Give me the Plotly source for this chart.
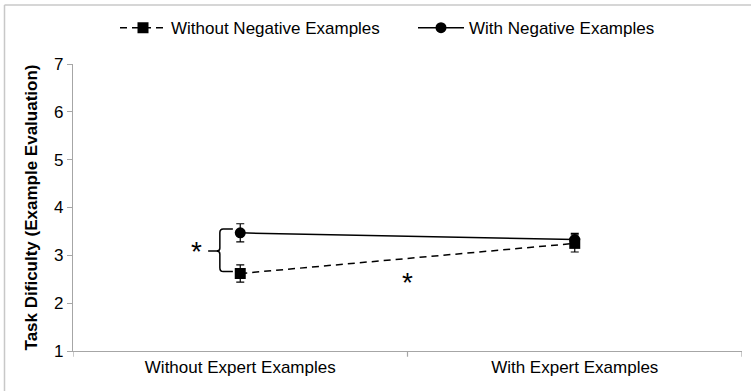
import plotly.graph_objects as go

categories = ["Without Expert Examples", "With Expert Examples"]
x_pos = [0, 1]
without_neg = [2.62, 3.25]
without_neg_err = [0.18, 0.18]
with_neg = [3.47, 3.33]
with_neg_err = [0.19, 0.13]
y_ticks = [1, 2, 3, 4, 5, 6, 7]

font_family = "Liberation Sans, Arial, sans-serif"

fig = go.Figure()
fig.add_trace(go.Scatter(
    x=x_pos, y=without_neg, name="Without Negative Examples",
    mode="lines+markers", legend="legend",
    line=dict(color="black", width=1.5, dash="7px,5px"),
    marker=dict(symbol="square", size=11, color="black"),
    error_y=dict(type="data", array=without_neg_err, color="black", thickness=1.2, width=4),
))
fig.add_trace(go.Scatter(
    x=x_pos, y=with_neg, name="With Negative Examples",
    mode="lines+markers", legend="legend2",
    line=dict(color="black", width=1.5),
    marker=dict(symbol="circle", size=11, color="black"),
    error_y=dict(type="data", array=with_neg_err, color="black", thickness=1.2, width=4),
))

# brace
bx, bl, br = -0.061, -0.096, -0.022
yt, ym, yb = 3.55, 3.09, 2.66
path = (f"M {br},{yt} L {bx+0.01},{yt} Q {bx},{yt} {bx},{yt-0.08} "
        f"L {bx},{ym+0.06} Q {bx},{ym} {bx-0.01},{ym} L {bl},{ym} "
        f"M {bx-0.01},{ym} Q {bx},{ym} {bx},{ym-0.06} "
        f"L {bx},{yb+0.08} Q {bx},{yb} {bx+0.01},{yb} L {br},{yb}")
fig.add_shape(type="path", path=path, xref="x", yref="y",
              line=dict(color="black", width=1.5))

# outer border (left and top edges of the frame)
bxl = (4.5 - 73) / 669
byt = 1 + (64 - 5) / 287
fig.add_shape(type="line", xref="paper", yref="paper", x0=bxl, x1=bxl, y0=-0.2, y1=byt,
              line=dict(color="#c8c8c8", width=1.5))
fig.add_shape(type="line", xref="paper", yref="paper", x0=bxl, x1=1.1, y0=byt, y1=byt,
              line=dict(color="#c8c8c8", width=1.5))

fig.add_annotation(x=-0.131, y=3.07, text="*", showarrow=False,
                   font=dict(size=28, color="black", family=font_family))
fig.add_annotation(x=0.5, y=2.43, text="*", showarrow=False,
                   font=dict(size=28, color="black", family=font_family))

legend_common = dict(orientation="h", xanchor="left", y=1.125, yanchor="middle",
                     font=dict(size=17), bgcolor="rgba(0,0,0,0)", itemwidth=46)

fig.update_layout(
    width=751, height=391,
    margin=dict(l=73, r=9, t=64, b=40, autoexpand=False),
    paper_bgcolor="white", plot_bgcolor="white",
    font=dict(family=font_family, color="black", size=17),
    showlegend=True,
    legend=dict(x=(115-73)/669, **legend_common),
    legend2=dict(x=(413-73)/669, **legend_common),
    xaxis=dict(range=[-0.5, 1.5], tickvals=x_pos, ticktext=categories,
               showgrid=False, zeroline=False, showline=True, linecolor="#a6a6a6",
               linewidth=1.2, ticks="", tickfont=dict(size=17), automargin=False),
    yaxis=dict(range=[1, 7], tickvals=y_ticks, showgrid=False, zeroline=False,
               showline=True, linecolor="#a6a6a6", linewidth=1.2,
               ticks="outside", ticklen=5, tickcolor="#a6a6a6",
               tickfont=dict(size=17), automargin=False,
               title=dict(text="<b>Task Dificulty (Example Evaluation)</b>",
                          font=dict(size=17), standoff=12)),
)

# category boundary ticks
for xb in [-0.5, 0.5, 1.5]:
    fig.add_shape(type="line", xref="x", yref="paper", x0=xb, x1=xb, y0=0, y1=-0.02,
                  line=dict(color="#a6a6a6", width=1.2))

fig.write_html("out.html", config={"displayModeBar": False},
               post_script="document.body.style.margin='0';")
